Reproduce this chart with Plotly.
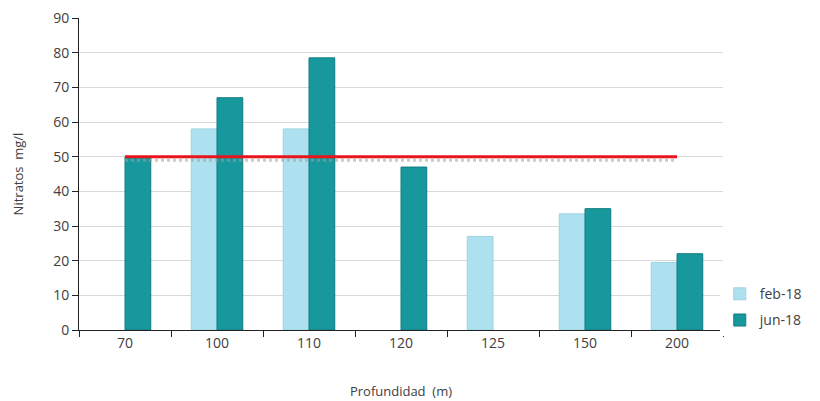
import plotly.graph_objects as go

categorias = ["70", "100", "110", "120", "125", "150", "200"]
feb_18 = [None, 58, 58, None, 27, 33.5, 19.5]
jun_18 = [50, 67, 78.5, 47, None, 35, 22]
limite = 50

fig = go.Figure()

fig.add_trace(go.Bar(
    x=categorias, y=feb_18, name="feb-18", legendgroup="a",
    marker=dict(color="#aee1ef", line=dict(color="#9fd2e0", width=1)),
))
fig.add_trace(go.Bar(
    x=categorias, y=jun_18, name="jun-18", legendgroup="b",
    marker=dict(color="#17989d", line=dict(color="#0f7c80", width=1)),
))

# sombra de la línea límite
fig.add_trace(go.Scatter(
    x=[categorias[0], categorias[-1]], y=[limite - 1.0, limite - 1.0],
    mode="lines", line=dict(color="rgba(160,160,160,0.55)", width=3, dash="dot"),
    showlegend=False, hoverinfo="skip",
))
fig.add_trace(go.Scatter(
    x=[categorias[0], categorias[-1]], y=[limite, limite],
    mode="lines", line=dict(color="#e8141b", width=3),
    showlegend=False,
))

font_family = "Open Sans, DejaVu Sans, sans-serif"

# la página añade 8 px de margen al cuerpo
fig.update_layout(
    width=812, height=393,
    margin=dict(l=71, r=97, t=10, b=71, autoexpand=False),
    paper_bgcolor="white", plot_bgcolor="white",
    barmode="group", bargap=0.44, bargroupgap=0.0,
    font=dict(family=font_family, size=14, color="#404040"),
    legend=dict(
        x=0.995, y=0.073, xanchor="left", yanchor="middle",
        font=dict(size=14, color="#404040"),
        itemwidth=30, tracegroupgap=5,
    ),
    xaxis=dict(
        type="category", automargin=False,
        showline=True, linecolor="#222222", linewidth=1,
        ticks="outside", tickson="boundaries", ticklen=6, tickcolor="#222222",
        showgrid=False,
        title=dict(text="Profundidad  (m)", font=dict(size=13), standoff=36),
        tickfont=dict(size=14),
    ),
    yaxis=dict(
        range=[0, 90], dtick=10, automargin=False,
        showline=True, linecolor="#222222", linewidth=1,
        ticks="outside", ticklen=6, tickcolor="#222222",
        gridcolor="#d9d9d9", gridwidth=1,
        zeroline=False, ticklabeloverflow="allow",
        title=dict(text="Nitratos  mg/l", font=dict(size=13), standoff=26),
        tickfont=dict(size=14),
    ),
)

fig.write_html("out.html")
